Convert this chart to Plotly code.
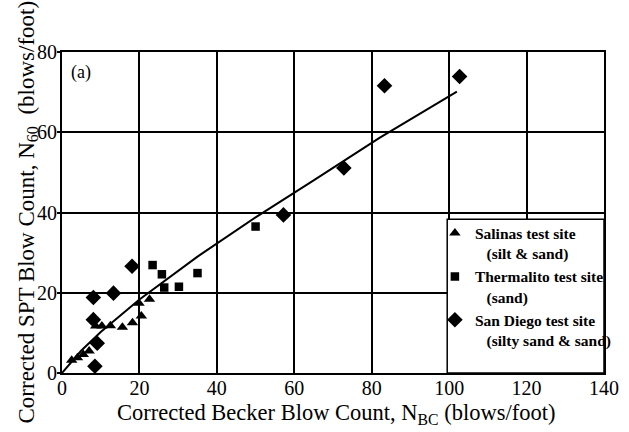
import plotly.graph_objects as go

# Salinas test site (silt & sand)
salinas_x = [2.5, 4.0, 5.5, 7.0, 8.7, 10.3, 12.5, 15.6, 18.2, 20.5, 19.9, 22.6]
salinas_y = [3.2, 3.8, 4.6, 5.5, 11.7, 11.7, 11.8, 11.4, 12.5, 14.2, 17.4, 18.4]

# Thermalito test site (sand)
therm_x = [23.4, 25.8, 26.4, 30.2, 35.0, 50.0]
therm_y = [26.9, 24.6, 21.3, 21.5, 24.9, 36.5]

# San Diego test site (silty sand & sand)
sd_x = [8.5, 9.1, 8.1, 8.1, 13.3, 18.1, 57.2, 72.8, 83.3, 102.7]
sd_y = [1.7, 7.4, 13.3, 18.8, 19.9, 26.6, 39.4, 51.1, 71.6, 73.9]

# fitted trend line
fit_x = [0, 5, 10, 20, 35, 50, 65, 82, 102]
fit_y = [0, 5.6, 10.2, 18.3, 29.0, 38.8, 48.0, 58.6, 70.1]

x_ticks = [0, 20, 40, 60, 80, 100, 120, 140]
y_ticks = [0, 20, 40, 60, 80]

FONT = "Liberation Serif"
NB = "\u00a0"

fig = go.Figure()

fig.add_trace(go.Scatter(x=fit_x, y=fit_y, mode="lines", line=dict(color="black", width=2),
                         showlegend=False, hoverinfo="skip"))
fig.add_trace(go.Scatter(x=salinas_x, y=salinas_y, mode="markers",
                         marker=dict(symbol="triangle-up", size=10, color="black"),
                         name="Salinas test site<br>" + NB * 3 + "(silt &amp; sand)"))
fig.add_trace(go.Scatter(x=therm_x, y=therm_y, mode="markers",
                         marker=dict(symbol="square", size=8.5, color="black"),
                         name="Thermalito test site<br>" + NB * 3 + "(sand)"))
fig.add_trace(go.Scatter(x=sd_x, y=sd_y, mode="markers",
                         marker=dict(symbol="diamond", size=12, color="black"),
                         name="San Diego test site<br>" + NB * 3 + "(silty sand &amp; sand)"))

# legend box
fig.add_shape(type="rect", xref="x", yref="y", x0=99.5, x1=140, y0=0, y1=38.3,
              line=dict(color="black", width=1.5), fillcolor="white", layer="above")

fig.add_annotation(x=4.8, y=75, xref="x", yref="y", text="(a)", showarrow=False,
                   xanchor="center", yanchor="middle", font=dict(family=FONT, size=18, color="black"))

# axis titles
fig.add_annotation(x=0.505, y=0, xref="paper", yref="paper", yshift=-41,
                   text="Corrected Becker Blow Count, N<sub>BC</sub> (blows/foot)", showarrow=False,
                   xanchor="center", yanchor="middle", font=dict(family=FONT, size=22.5, color="black"))
fig.add_annotation(x=0, y=0.5, xref="paper", yref="paper", xshift=-35,
                   text="Corrected SPT Blow Count, N<sub>60</sub>  (blows/foot)", showarrow=False,
                   textangle=-90, xanchor="center", yanchor="middle",
                   font=dict(family=FONT, size=23, color="black"))

fig.update_layout(
    width=629, height=432,
    margin=dict(l=62, r=14, t=52, b=59),
    paper_bgcolor="white", plot_bgcolor="white",
    font=dict(family=FONT, color="black"),
    legend=dict(x=0.688, y=39.0 / 80, xanchor="left", yanchor="top",
                bgcolor="rgba(0,0,0,0)", borderwidth=0,
                font=dict(family=FONT, size=15.5, color="black", weight="bold"),
                valign="top", tracegroupgap=0, itemwidth=30),
    xaxis=dict(range=[0, 140], tickvals=x_ticks, ticktext=[str(v) for v in x_ticks],
               showgrid=True, gridcolor="black", gridwidth=1.5, automargin=False,
               showline=True, linecolor="black", linewidth=2, mirror=True,
               ticks="", zeroline=False, ticklabelstandoff=-4,
               tickfont=dict(family=FONT, size=20, color="black")),
    yaxis=dict(range=[0, 80], tickvals=y_ticks, ticktext=[str(v) for v in y_ticks],
               showgrid=True, gridcolor="black", gridwidth=1.5, automargin=False,
               showline=True, linecolor="black", linewidth=2, mirror=True,
               ticks="outside", ticklen=3, tickwidth=1.5, tickcolor="black", zeroline=False,
               ticklabelstandoff=-4,
               tickfont=dict(family=FONT, size=20, color="black")),
)

fig.write_html("out.html", config={"displayModeBar": False},
               post_script="document.body.style.margin='0';")
